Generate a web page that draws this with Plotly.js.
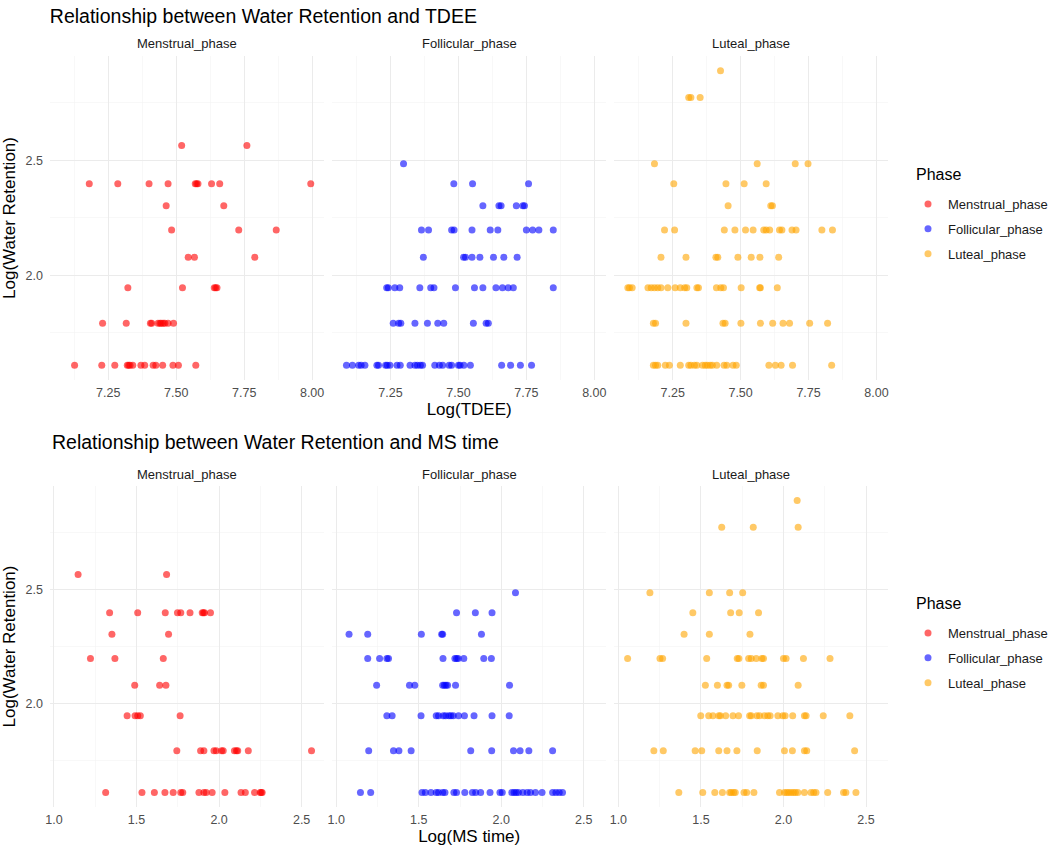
<!DOCTYPE html>
<html>
<head>
<meta charset="utf-8">
<script src="https://cdn.plot.ly/plotly-3.0.1.min.js"></script>
<style>
  html, body { margin: 0; padding: 0; background: #fff; }
  #chart { width: 1053px; height: 853px; }
</style>
</head>
<body>
<div id="chart"></div>
<script>
// water retention levels (log scale), top to bottom
const wrLevels = [2.890, 2.773, 2.565, 2.485, 2.398, 2.303, 2.197, 2.079, 1.946, 1.792, 1.609];

const phases = ['Menstrual_phase', 'Follicular_phase', 'Luteal_phase'];
const phaseColors = ['rgb(255,0,0)', 'rgb(0,0,255)', 'rgb(255,165,0)'];

// Log(TDEE) values, one row per level in wrLevels
const tdeeMenstrual = [
  [], [], [7.52, 7.76], [],
  [7.18, 7.285, 7.40, 7.47, 7.57, 7.575, 7.58, 7.63, 7.66, 7.995],
  [7.463, 7.675],
  [7.483, 7.73, 7.868],
  [7.544, 7.567, 7.789],
  [7.322, 7.523, 7.64, 7.645, 7.65],
  [7.229, 7.316, 7.405, 7.41, 7.433, 7.44, 7.445, 7.452, 7.458, 7.47, 7.49],
  [7.126, 7.226, 7.274, 7.32, 7.325, 7.33, 7.34, 7.37, 7.384, 7.415, 7.425, 7.45, 7.488, 7.508, 7.572]
];
const tdeeFollicular = [
  [], [], [], [7.298],
  [7.483, 7.552, 7.758],
  [7.59, 7.649, 7.657, 7.713, 7.737, 7.743],
  [7.364, 7.39, 7.475, 7.484, 7.55, 7.617, 7.645, 7.75, 7.773, 7.796, 7.849],
  [7.371, 7.519, 7.526, 7.55, 7.579, 7.629, 7.667, 7.716],
  [7.236, 7.242, 7.266, 7.284, 7.358, 7.398, 7.41, 7.489, 7.559, 7.59, 7.638, 7.662, 7.683, 7.702, 7.849],
  [7.26, 7.28, 7.288, 7.34, 7.386, 7.424, 7.446, 7.555, 7.602, 7.61],
  [7.088, 7.11, 7.133, 7.142, 7.156, 7.2, 7.206, 7.232, 7.238, 7.248, 7.274, 7.286, 7.322, 7.34, 7.349,
   7.36, 7.368, 7.413, 7.43, 7.442, 7.466, 7.475, 7.5, 7.506, 7.52, 7.544, 7.659, 7.692, 7.728, 7.769]
];
const tdeeLuteal = [
  [7.426],
  [7.309, 7.317, 7.351],
  [],
  [7.183, 7.561, 7.701, 7.748],
  [7.254, 7.446, 7.513, 7.594],
  [7.454, 7.611, 7.617],
  [7.22, 7.257, 7.44, 7.479, 7.518, 7.546, 7.585, 7.594, 7.607, 7.643, 7.652, 7.689, 7.704, 7.799, 7.838],
  [7.207, 7.299, 7.409, 7.416, 7.49, 7.539, 7.571, 7.64],
  [7.085, 7.091, 7.101, 7.159, 7.171, 7.183, 7.195, 7.207, 7.232, 7.259, 7.278, 7.294, 7.302, 7.339, 7.345,
   7.411, 7.427, 7.437, 7.502, 7.57, 7.573, 7.635],
  [7.179, 7.187, 7.299, 7.435, 7.443, 7.501, 7.573, 7.618, 7.656, 7.68, 7.754, 7.82],
  [7.179, 7.187, 7.195, 7.223, 7.238, 7.278, 7.309, 7.317, 7.33, 7.339, 7.36, 7.37, 7.378, 7.388, 7.396,
   7.412, 7.439, 7.449, 7.472, 7.484, 7.604, 7.628, 7.649, 7.691, 7.835]
];

// Log(MS time) values, one row per level in wrLevels
const msMenstrual = [
  [], [], [1.146, 1.682], [],
  [1.337, 1.507, 1.674, 1.748, 1.768, 1.824, 1.898, 1.905, 1.912, 1.948],
  [1.351, 1.694],
  [1.221, 1.369, 1.662],
  [1.489, 1.64, 1.678],
  [1.443, 1.491, 1.507, 1.523, 1.764],
  [1.744, 1.888, 1.908, 1.969, 1.983, 2.015, 2.025, 2.093, 2.105, 2.113, 2.177, 2.56],
  [1.313, 1.533, 1.608, 1.672, 1.722, 1.768, 1.78, 1.878, 1.908, 1.922, 1.958, 2.035, 2.133, 2.159, 2.215,
   2.249, 2.255, 2.261]
];
const msFollicular = [
  [], [], [], [2.086],
  [1.729, 1.843, 1.944],
  [1.078, 1.191, 1.516, 1.639, 1.645, 1.88],
  [1.191, 1.263, 1.307, 1.317, 1.647, 1.719, 1.729, 1.739, 1.773, 1.894, 1.94],
  [1.245, 1.444, 1.476, 1.645, 1.655, 1.665, 1.675, 1.723, 2.05],
  [1.307, 1.339, 1.514, 1.606, 1.62, 1.649, 1.663, 1.683, 1.695, 1.709, 1.741, 1.777, 1.835, 1.944, 2.048],
  [1.197, 1.347, 1.38, 1.454, 1.815, 1.942, 2.074, 2.114, 2.167, 2.311],
  [1.147, 1.209, 1.52, 1.54, 1.574, 1.606, 1.62, 1.645, 1.659, 1.713, 1.729, 1.779, 1.825, 1.845, 1.875,
   1.932, 1.992, 2.006, 2.064, 2.078, 2.09, 2.104, 2.131, 2.157, 2.177, 2.207, 2.247, 2.311, 2.331, 2.351, 2.371]
];
const msLuteal = [
  [2.083],
  [1.626, 1.817, 2.089],
  [],
  [1.191, 1.551, 1.674, 1.753],
  [1.451, 1.68, 1.732, 1.849],
  [1.398, 1.551, 1.797],
  [1.056, 1.252, 1.268, 1.535, 1.72, 1.73, 1.789, 1.805, 1.835, 1.869, 1.879, 2.0, 2.016, 2.121, 2.282],
  [1.527, 1.6, 1.658, 1.668, 1.748, 1.865, 1.879, 2.089],
  [1.499, 1.547, 1.573, 1.608, 1.618, 1.65, 1.694, 1.728, 1.795, 1.805, 1.839, 1.855, 1.885, 1.905, 1.919,
   1.966, 1.996, 2.01, 2.056, 2.127, 2.137, 2.241, 2.402],
  [1.215, 1.272, 1.465, 1.505, 1.608, 1.658, 1.718, 1.841, 2.006, 2.054, 2.127, 2.141, 2.431],
  [1.366, 1.511, 1.584, 1.63, 1.674, 1.684, 1.698, 1.708, 1.761, 1.777, 1.821, 1.976, 2.006, 2.02, 2.032,
   2.046, 2.06, 2.072, 2.087, 2.127, 2.167, 2.183, 2.197, 2.268, 2.364, 2.378, 2.439]
];

const tdeeRows = [tdeeMenstrual, tdeeFollicular, tdeeLuteal];
const msRows = [msMenstrual, msFollicular, msLuteal];

function points(rows)
{
  var x = [], y = [];
  rows.forEach((row, i) => {
    row.forEach(v => { x.push(v); y.push(wrLevels[i]); });
  });
  return { x: x, y: y };
}

const W = 1053, H = 853;
const font = 'Liberation Sans, Arial, sans-serif';
const grid = '#ebebeb';

// panel boxes in pixels
const colX = [[50, 325], [333, 608], [616, 891]];
const rowY = [[56, 380], [486, 807]];

var data = [];
var layout = {
  width: W, height: H,
  margin: { l: 0, r: 0, t: 0, b: 0 },
  paper_bgcolor: '#fff', plot_bgcolor: '#fff',
  font: { family: font, color: '#000' },
  showlegend: true,
  annotations: []
};

function addPanel(idx, col, row, rows, xRange, xTick0, xDtick, xFmt, legendId)
{
  var pts = points(rows);
  var sfx = idx === 1 ? '' : String(idx);
  data.push({
    type: 'scatter', mode: 'markers',
    x: pts.x, y: pts.y,
    xaxis: 'x' + sfx, yaxis: 'y' + sfx,
    name: phases[col],
    legend: legendId,
    legendgroup: legendId + col,
    marker: { color: phaseColors[col], size: 7, opacity: 0.6 },
    hoverinfo: 'x+y'
  });
  layout['xaxis' + sfx] = {
    domain: [colX[col][0] / W, colX[col][1] / W],
    anchor: 'y' + sfx,
    range: xRange,
    tick0: xTick0, dtick: xDtick, tickformat: xFmt,
    showgrid: true, gridcolor: grid, gridwidth: 1,
    minor: { tick0: xTick0 + xDtick / 2, dtick: xDtick, showgrid: true, gridcolor: '#f3f3f3', gridwidth: 0.6 },
    zeroline: false, showline: false, ticks: '',
    ticklabelstandoff: 3,
    tickfont: { size: 12.5, color: '#4d4d4d', family: font }
  };
  layout['yaxis' + sfx] = {
    domain: [1 - rowY[row][1] / H, 1 - rowY[row][0] / H],
    anchor: 'x' + sfx,
    range: [1.545, 2.954],
    tick0: 1.5, dtick: 0.5, tickformat: '.1f',
    showticklabels: col === 0,
    showgrid: true, gridcolor: grid, gridwidth: 1,
    minor: { tick0: 1.75, dtick: 0.5, showgrid: true, gridcolor: '#f3f3f3', gridwidth: 0.6 },
    zeroline: false, showline: false, ticks: '',
    ticklabelstandoff: 6,
    tickfont: { size: 12.5, color: '#4d4d4d', family: font }
  };
  if (col === 0) {
    layout['yaxis' + sfx].title = { text: 'Log(Water Retention)', font: { size: 17, family: font }, standoff: 6 };
  }
  // facet strip label
  layout.annotations.push({
    xref: 'paper', yref: 'paper',
    x: (colX[col][0] + colX[col][1]) / 2 / W,
    y: 1 - (rowY[row][0] - 12) / H,
    text: phases[col], showarrow: false,
    font: { size: 13, color: '#1a1a1a', family: font },
    xanchor: 'center', yanchor: 'middle'
  });
}

for (var c = 0; c < 3; c++) {
  addPanel(c + 1, c, 0, tdeeRows[c], [7.035, 8.044], 7.0, 0.25, '.2f', 'legend');
}
for (var c = 0; c < 3; c++) {
  addPanel(c + 4, c, 1, msRows[c], [0.975, 2.636], 1.0, 0.5, '.1f', 'legend2');
}

layout.xaxis2.title = { text: 'Log(TDEE)', font: { size: 17, family: font }, standoff: 4 };
layout.xaxis5.title = { text: 'Log(MS time)', font: { size: 17, family: font }, standoff: 4 };

layout.title = {
  text: 'Relationship between Water Retention and TDEE',
  xref: 'paper', yref: 'paper',
  x: 50 / W, xanchor: 'left',
  y: 1 - 16 / H, yanchor: 'middle',
  font: { size: 19.5, family: font, color: '#000' }
};
layout.annotations.push({
  xref: 'paper', yref: 'paper',
  x: 50 / W, xanchor: 'left',
  y: 1 - 442 / H, yanchor: 'middle',
  text: 'Relationship between Water Retention and MS time',
  showarrow: false,
  font: { size: 19.5, family: font, color: '#000' }
});

// legend titles sit a bit higher above the keys than plotly puts them
[175, 603].forEach(yPx => {
  layout.annotations.push({
    xref: 'paper', yref: 'paper',
    x: 917 / W, xanchor: 'left',
    y: 1 - yPx / H, yanchor: 'middle',
    text: 'Phase', showarrow: false,
    font: { size: 16, family: font, color: '#000' }
  });
});

function legendBox(topPx)
{
  return {
    x: 911 / W, xanchor: 'left',
    y: 1 - topPx / H, yanchor: 'top',
    bgcolor: 'rgba(0,0,0,0)',
    font: { size: 13, family: font, color: '#1a1a1a' },
    traceorder: 'grouped', tracegroupgap: 5,
    itemclick: false, itemdoubleclick: false
  };
}
layout.legend = legendBox(189);
layout.legend2 = legendBox(618);

window.addEventListener('load', (event) => {
  Plotly.newPlot('chart', data, layout, { displayModeBar: false, staticPlot: true });
});
</script>
</body>
</html>
